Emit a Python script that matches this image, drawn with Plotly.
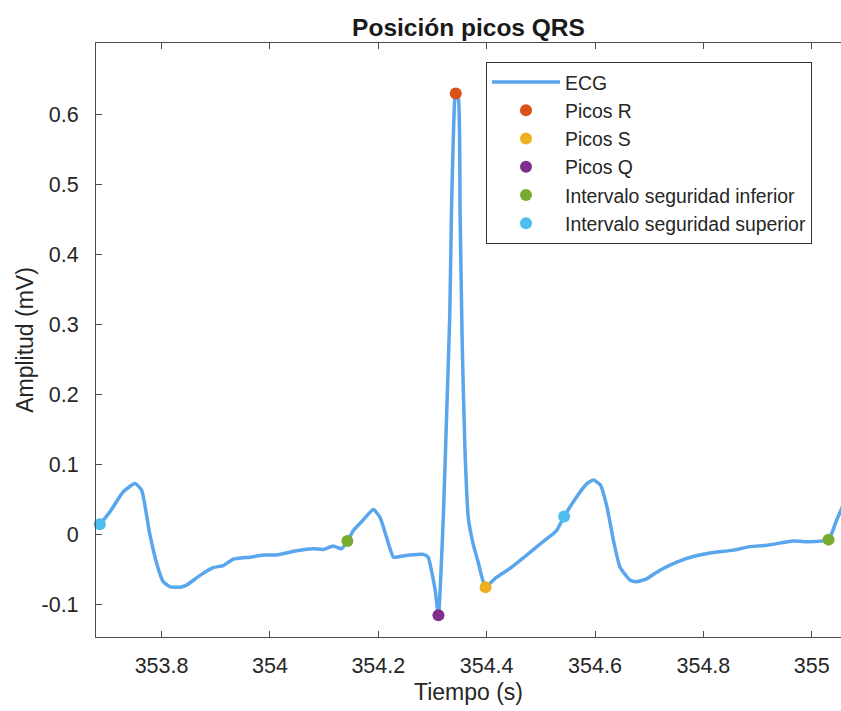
import plotly.graph_objects as go

# ECG trace (time in s, amplitude in mV)
tiempo = [353.679, 353.686, 353.705, 353.729, 353.751, 353.763, 353.778, 353.791, 353.803,
          353.815, 353.834, 353.846, 353.871, 353.895, 353.914, 353.932, 353.963, 353.988,
          354.012, 354.049, 354.080, 354.098, 354.117, 354.132, 354.143, 354.154, 354.172,
          354.191, 354.203, 354.215, 354.228, 354.240, 354.258, 354.283, 354.292, 354.298,
          354.305, 354.311, 354.320, 354.326, 354.332, 354.335, 354.338, 354.341, 354.343,
          354.348, 354.351, 354.355, 354.360, 354.366, 354.375, 354.385, 354.391, 354.398,
          354.408, 354.418, 354.443, 354.474, 354.504, 354.529, 354.543, 354.566, 354.585,
          354.597, 354.610, 354.622, 354.634, 354.646, 354.665, 354.677, 354.695, 354.719,
          354.751, 354.781, 354.812, 354.855, 354.886, 354.917, 354.966, 354.997, 355.031,
          355.046, 355.062]
amplitud = [0.010, 0.015, 0.033, 0.061, 0.073, 0.064, 0.002, -0.041, -0.067,
            -0.074, -0.075, -0.072, -0.058, -0.047, -0.044, -0.035, -0.032, -0.029,
            -0.029, -0.023, -0.020, -0.021, -0.016, -0.020, -0.009, 0.006, 0.021,
            0.036, 0.025, -0.003, -0.032, -0.031, -0.029, -0.028, -0.032, -0.051,
            -0.079, -0.115, 0.025, 0.168, 0.316, 0.459, 0.554, 0.621, 0.630,
            0.621, 0.459, 0.268, 0.121, 0.025, -0.013, -0.041, -0.060, -0.075,
            -0.068, -0.061, -0.048, -0.029, -0.010, 0.006, 0.026, 0.054, 0.073,
            0.078, 0.071, 0.040, -0.008, -0.046, -0.065, -0.067, -0.063, -0.051,
            -0.039, -0.031, -0.026, -0.022, -0.017, -0.015, -0.009, -0.010, -0.007,
            0.021, 0.049]

picos_r_t = [354.343]
picos_r_v = [0.630]
picos_s_t = [354.398]
picos_s_v = [-0.075]
picos_q_t = [354.311]
picos_q_v = [-0.115]
inf_t = [354.143, 355.031]
inf_v = [-0.009, -0.007]
sup_t = [353.686, 354.543]
sup_v = [0.015, 0.026]

x_ticks = [353.8, 354.0, 354.2, 354.4, 354.6, 354.8, 355.0]
x_labels = ["353.8", "354", "354.2", "354.4", "354.6", "354.8", "355"]
y_ticks = [-0.1, 0, 0.1, 0.2, 0.3, 0.4, 0.5, 0.6]
y_labels = ["-0.1", "0", "0.1", "0.2", "0.3", "0.4", "0.5", "0.6"]

FONT = "Liberation Sans, Arial, Helvetica, sans-serif"
TXT = "#262626"
AX = "#4d4d4d"
MS = 12

fig = go.Figure()
fig.add_trace(go.Scatter(x=tiempo, y=amplitud, mode="lines", name="ECG",
                         line=dict(color="#5AA6EC", width=3.5, shape="spline", smoothing=0.5)))
fig.add_trace(go.Scatter(x=picos_r_t, y=picos_r_v, mode="markers", name="Picos R",
                         marker=dict(color="#D95319", size=MS), cliponaxis=False))
fig.add_trace(go.Scatter(x=picos_s_t, y=picos_s_v, mode="markers", name="Picos S",
                         marker=dict(color="#EDB120", size=MS), cliponaxis=False))
fig.add_trace(go.Scatter(x=picos_q_t, y=picos_q_v, mode="markers", name="Picos Q",
                         marker=dict(color="#7E2F8E", size=MS), cliponaxis=False))
fig.add_trace(go.Scatter(x=inf_t, y=inf_v, mode="markers", name="Intervalo seguridad inferior",
                         marker=dict(color="#77AC30", size=MS), cliponaxis=False))
fig.add_trace(go.Scatter(x=sup_t, y=sup_v, mode="markers", name="Intervalo seguridad superior",
                         marker=dict(color="#4DBEEE", size=MS), cliponaxis=False))

fig.update_layout(
    width=841, height=711,
    margin=dict(l=96, r=0, t=43, b=74),
    paper_bgcolor="white", plot_bgcolor="white",
    font=dict(family=FONT, color=TXT, size=21),
    title=dict(text="<b>Posición picos QRS</b>", x=(96 + 841) / 2 / 841, xanchor="center",
               xref="container", yref="container", y=1 - 27 / 711, yanchor="middle",
               font=dict(family=FONT, size=24.5, color="#1a1a1a")),
    xaxis=dict(range=[353.679, 355.054], tickvals=x_ticks, ticktext=x_labels,
               showgrid=False, zeroline=False, showline=True, linecolor=AX, linewidth=1.2,
               mirror="ticks", ticks="inside", ticklen=6, tickcolor=AX,
               ticklabelstandoff=9,
               tickfont=dict(size=21.5, color=TXT),
               title=dict(text="Tiempo (s)", font=dict(size=23, color=TXT), standoff=6)),
    yaxis=dict(range=[-0.146, 0.702], tickvals=y_ticks, ticktext=y_labels,
               showgrid=False, zeroline=False, showline=True, linecolor=AX, linewidth=1.2,
               mirror=False, ticks="inside", ticklen=6, tickcolor=AX,
               ticklabelstandoff=12,
               tickfont=dict(size=21.5, color=TXT),
               title=dict(text="Amplitud (mV)", font=dict(size=23, color=TXT), standoff=1)),
    legend=dict(x=(486 - 96) / 745, y=(637 - 62) / 594, xanchor="left", yanchor="top",
                bordercolor="#333333", borderwidth=1, bgcolor="white",
                font=dict(size=19.4, color=TXT), itemwidth=68, tracegroupgap=0),
    showlegend=True,
)

fig.write_html("out.html")
